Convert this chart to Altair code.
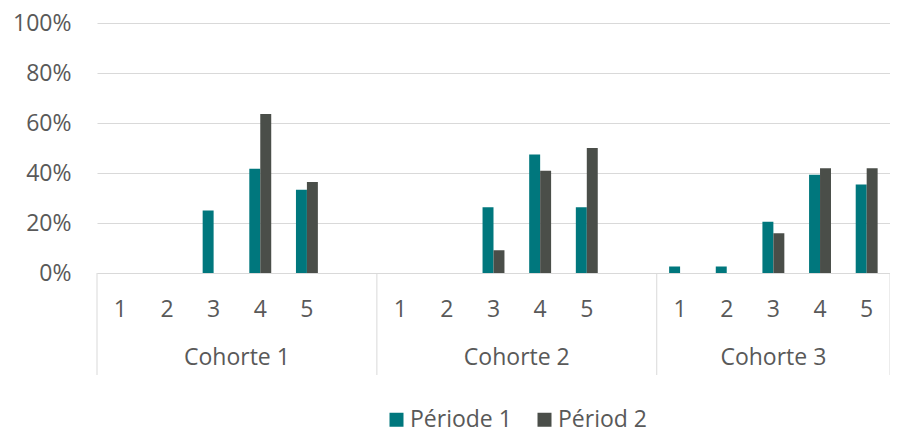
import altair as alt
import pandas as pd

# ---- data ----
cohorts = ["Cohorte 1", "Cohorte 2", "Cohorte 3"]
categories = [["1", "2", "3", "4", "5", ""],
              ["1", "2", "3", "4", "5", ""],
              ["1", "2", "3", "4", "5"]]
series = ["Période 1", "Périod 2"]
periode_1 = [[0, 0, 25.0, 41.7, 33.3],
             [0, 0, 26.3, 47.4, 26.3],
             [2.6, 2.6, 20.5, 39.3, 35.4]]
periode_2 = [[0, 0, 0, 63.6, 36.4],
             [0, 0, 9.1, 40.9, 50.0],
             [0, 0, 15.9, 41.9, 41.9]]
y_ticks = [0, 20, 40, 60, 80, 100]

# ---- styles ----
FONT = "Open Sans"
FS = 23
TXT = "#595959"
GRID = "#D9D9D9"
COLORS = ["#00777D", "#4A4E49"]
W, H = 793, 250

# ---- tables ----
slots = []
rows = []
first_slots, cohort_even, cohort_odd = [], [], []
for ci, coh in enumerate(cohorts):
    cs = [f"{ci + 1}|{c}" for c in categories[ci]]
    slots.extend(cs)
    first_slots.append({"slot": cs[0]})
    n = len(cs)
    if n % 2 == 0:
        cohort_even.append({"slot": cs[n // 2], "cohort": coh})
    else:
        cohort_odd.append({"slot": cs[n // 2], "cohort": coh})
    for k in range(len(periode_1[ci])):
        rows.append({"slot": cs[k], "series": series[0], "value": periode_1[ci][k]})
        rows.append({"slot": cs[k], "series": series[1], "value": periode_2[ci][k]})
df = pd.DataFrame(rows)
last_slot = pd.DataFrame([{"slot": slots[-1]}])
half_step = W / len(slots) / 2

plain_x = alt.Scale(domain=slots, paddingInner=0, paddingOuter=0)

bars = alt.Chart(df).mark_bar().encode(
    x=alt.X("slot:N", sort=slots,
            scale=alt.Scale(domain=slots, paddingInner=0.53, paddingOuter=0.265),
            axis=alt.Axis(title=None, labelExpr="split(datum.value, '|')[1]",
                          labelFont=FONT, labelFontSize=FS, labelColor=TXT,
                          labelAngle=0, labelPadding=36, labelBaseline="middle",
                          ticks=False, grid=False, domainColor=GRID, domainWidth=1)),
    xOffset=alt.XOffset("series:N", sort=series,
                        scale=alt.Scale(domain=series, paddingInner=0, paddingOuter=0)),
    y=alt.Y("value:Q", scale=alt.Scale(domain=[0, 100]),
            axis=alt.Axis(title=None, values=y_ticks, labelExpr="datum.value + '%'",
                          labelFont=FONT, labelFontSize=FS, labelColor=TXT,
                          labelPadding=26, domain=False, ticks=False,
                          gridColor=GRID, gridWidth=1)),
    color=alt.Color("series:N", sort=series,
                    scale=alt.Scale(domain=series, range=COLORS),
                    legend=alt.Legend(title=None, orient="none", direction="horizontal",
                                      legendX=288, legendY=385,
                                      symbolType="square", symbolSize=196,
                                      symbolStrokeWidth=0, labelFont=FONT,
                                      labelFontSize=FS, labelColor=TXT,
                                      labelOffset=2, columnPadding=21)),
)

dividers = alt.Chart(pd.DataFrame(first_slots)).mark_rule(color=GRID, strokeWidth=1).encode(
    x=alt.X("slot:N", scale=plain_x, bandPosition=0, axis=None),
    y=alt.value(H), y2=alt.value(H + 102),
)
end_divider = alt.Chart(last_slot).mark_rule(color=GRID, strokeWidth=1).encode(
    x=alt.X("slot:N", scale=plain_x, bandPosition=1, axis=None),
    y=alt.value(H), y2=alt.value(H + 102),
)
lab_even = alt.Chart(pd.DataFrame(cohort_even)).mark_text(
    font=FONT, fontSize=FS, color=TXT, baseline="middle", align="center",
    dx=-half_step).encode(
    x=alt.X("slot:N", scale=plain_x, axis=None),
    y=alt.value(H + 85), text="cohort:N",
)
lab_odd = alt.Chart(pd.DataFrame(cohort_odd)).mark_text(
    font=FONT, fontSize=FS, color=TXT, baseline="middle", align="center").encode(
    x=alt.X("slot:N", scale=plain_x, axis=None),
    y=alt.value(H + 85), text="cohort:N",
)

chart = alt.layer(bars, dividers, end_divider, lab_even, lab_odd).resolve_scale(
    x="independent"
).properties(
    width=W, height=H,
    autosize=alt.AutoSizeParams(type="none"),
    padding={"left": 89, "top": 15, "right": 0, "bottom": 160},
    background="white",
).configure_view(stroke=None)

chart.save("out.html", embed_options={"renderer": "svg", "actions": False})
